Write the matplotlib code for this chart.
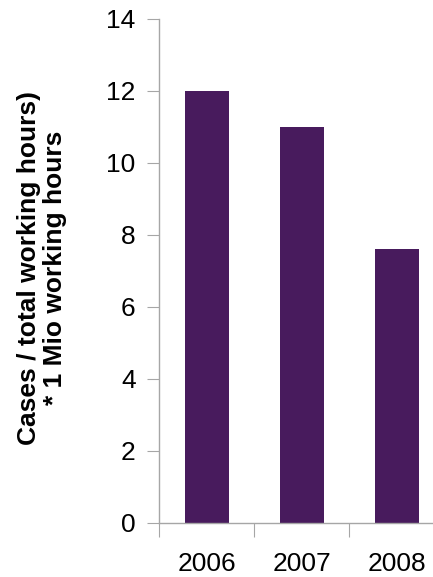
import matplotlib.pyplot as plt
import numpy as np

years = ["2006", "2007", "2008"]
cases_per_mio_hours = [12.0, 11.0, 7.6]

bar_color = "#481b5d"
axis_grey = "#a6a6a6"

plt.rcParams["font.family"] = ["Liberation Sans", "DejaVu Sans"]

fig = plt.figure(figsize=(4.33, 5.77), dpi=100)
# axes runs past the right edge of the canvas, as in the original layout
ax = fig.add_axes([0.368, 0.0941, 0.658, 0.8735])

x = np.arange(len(years))
ax.bar(x, cases_per_mio_hours, width=0.46, color=bar_color)

ax.set_xlim(-0.5, len(years) - 0.5)
ax.set_ylim(0, 14)
ax.set_yticks(np.arange(0, 15, 2))

# category boundaries carry the tick marks, labels sit at the centres
ax.set_xticks(np.arange(-0.5, len(years), 1.0))
ax.set_xticklabels([])
ax.set_xticks(x, minor=True)
ax.set_xticklabels(years, minor=True)
ax.tick_params(axis="x", which="major", length=10, color=axis_grey, direction="out")
ax.tick_params(axis="x", which="minor", length=0, pad=21, labelsize=19)
ax.tick_params(axis="y", length=9, color=axis_grey, direction="out", pad=8, labelsize=19)

for side in ("top", "right"):
    ax.spines[side].set_visible(False)
for side in ("left", "bottom"):
    ax.spines[side].set_color(axis_grey)
    ax.spines[side].set_linewidth(1.0)

fig.text(0.097, 0.5355, "Cases / total working hours)\n* 1 Mio working hours",
         rotation=90, ha="center", va="center", multialignment="center",
         fontsize=19, fontweight="bold", linespacing=1.15)

fig.savefig("out.png", dpi=100)
